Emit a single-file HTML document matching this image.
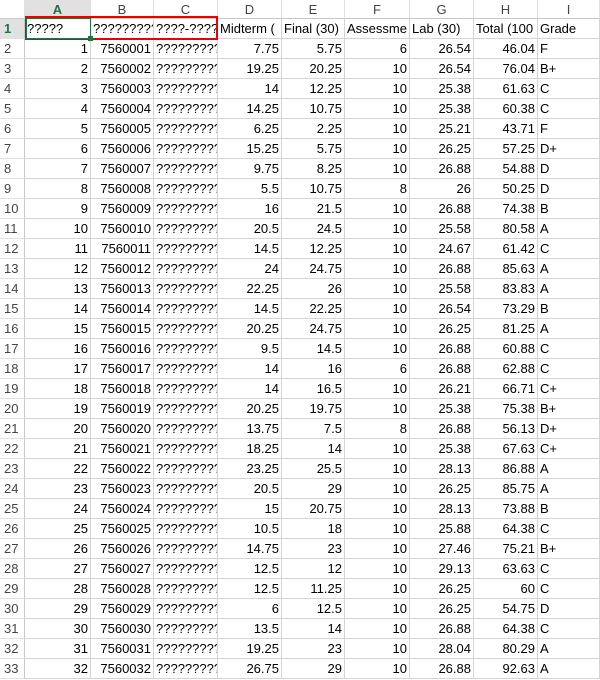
<!DOCTYPE html>
<html><head><meta charset="utf-8"><style>
body{margin:0;width:600px;height:680px;overflow:hidden;background:#fff;font-family:"Liberation Sans",Arial,sans-serif;font-size:13px;position:relative}
.c{position:absolute;box-sizing:border-box;border-right:1px solid #d4d4d4;border-bottom:1px solid #d4d4d4;height:20px;line-height:19px;white-space:nowrap;overflow:hidden;padding:0 2px;color:#000}
.h{color:#444;text-align:center;background:#fff;border-right:1px solid #e0e0e0;border-bottom:1px solid #c8c8c8;font-size:13px}
.rh{color:#444;text-align:left;padding-left:4px;border-right:1px solid #c8c8c8;border-bottom:1px solid #e0e0e0}
.r{text-align:right}
</style></head><body>
<div id="grid"></div>
<div style="position:absolute;left:25px;top:16px;width:193px;height:24px;border:2px solid #e00;box-sizing:border-box"></div>
<div style="position:absolute;left:26px;top:18px;width:65px;height:21px;border:1px solid #217346;box-sizing:border-box"></div>
<div style="position:absolute;left:88px;top:36px;width:5px;height:5px;background:#217346"></div>
<script>
const cols=["A","B","C","D","E","F","G","H","I"];
const xs=[25,91,154,218,282,345,410,474,538,600];
const headers=["?????","?????????","????-????","Midterm (","Final (30)","Assessme","Lab (30)","Total (100","Grade"];
const midterm=[7.75,19.25,14,14.25,6.25,15.25,9.75,5.5,16,20.5,14.5,24,22.25,14.5,20.25,9.5,14,14,20.25,13.75,18.25,23.25,20.5,15,10.5,14.75,12.5,12.5,6,13.5,19.25,26.75];
const finals=[5.75,20.25,12.25,10.75,2.25,5.75,8.25,10.75,21.5,24.5,12.25,24.75,26,22.25,24.75,14.5,16,16.5,19.75,7.5,14,25.5,29,20.75,18,23,12,11.25,12.5,14,23,29];
const assess=[6,10,10,10,10,10,10,8,10,10,10,10,10,10,10,10,6,10,10,8,10,10,10,10,10,10,10,10,10,10,10,10];
const lab=[26.54,26.54,25.38,25.38,25.21,26.25,26.88,26,26.88,25.58,24.67,26.88,25.58,26.54,26.25,26.88,26.88,26.21,25.38,26.88,25.38,28.13,26.25,28.13,25.88,27.46,29.13,26.25,26.25,26.88,28.04,26.88];
const total=[46.04,76.04,61.63,60.38,43.71,57.25,54.88,50.25,74.38,80.58,61.42,85.63,83.83,73.29,81.25,60.88,62.88,66.71,75.38,56.13,67.63,86.88,85.75,73.88,64.38,75.21,63.63,60,54.75,64.38,80.29,92.63];
const grades=["F","B+","C","C","F","D+","D","D","B","A","C","A","A","B","A","C","C","C+","B+","D+","C+","A","A","B","C","B+","C","C","D","C","A","A"];
const g=document.getElementById('grid');
function cell(x,y,w,cls,txt){const d=document.createElement('div');d.className='c '+cls;d.style.left=x+'px';d.style.top=y+'px';d.style.width=w+'px';d.textContent=txt;g.appendChild(d);return d;}
const corner=cell(0,0,25,'h','');


corner.style.height='19px';
for(let i=0;i<9;i++){const d=cell(xs[i],0,xs[i+1]-xs[i],'h',cols[i]);d.style.height='19px';


if(i==0){d.style.color='#217346';d.style.fontWeight='bold';d.style.background='#e1e1e1';d.style.borderBottom='2px solid #217346';}}
for(let r=0;r<33;r++){const y=19+r*20;
const rh=cell(0,y,25,'rh',String(r+1));


if(r==0){rh.style.color='#217346';rh.style.fontWeight='bold';rh.style.background='#e1e1e1';}
let vals,al;
if(r==0){vals=headers;al=[0,0,0,0,0,0,0,0,0];}
else{const k=r-1;vals=[k+1,7560001+k,"?????????",midterm[k],finals[k],assess[k],lab[k],total[k],grades[k]];al=[1,1,0,1,1,1,1,1,0];}
for(let i=0;i<9;i++){const d=cell(xs[i],y,xs[i+1]-xs[i],al[i]?'r':'',String(vals[i]));


if(r==0&&(i==1||i==2)){d.style.overflow='hidden';}}}
</script>
</body></html>
